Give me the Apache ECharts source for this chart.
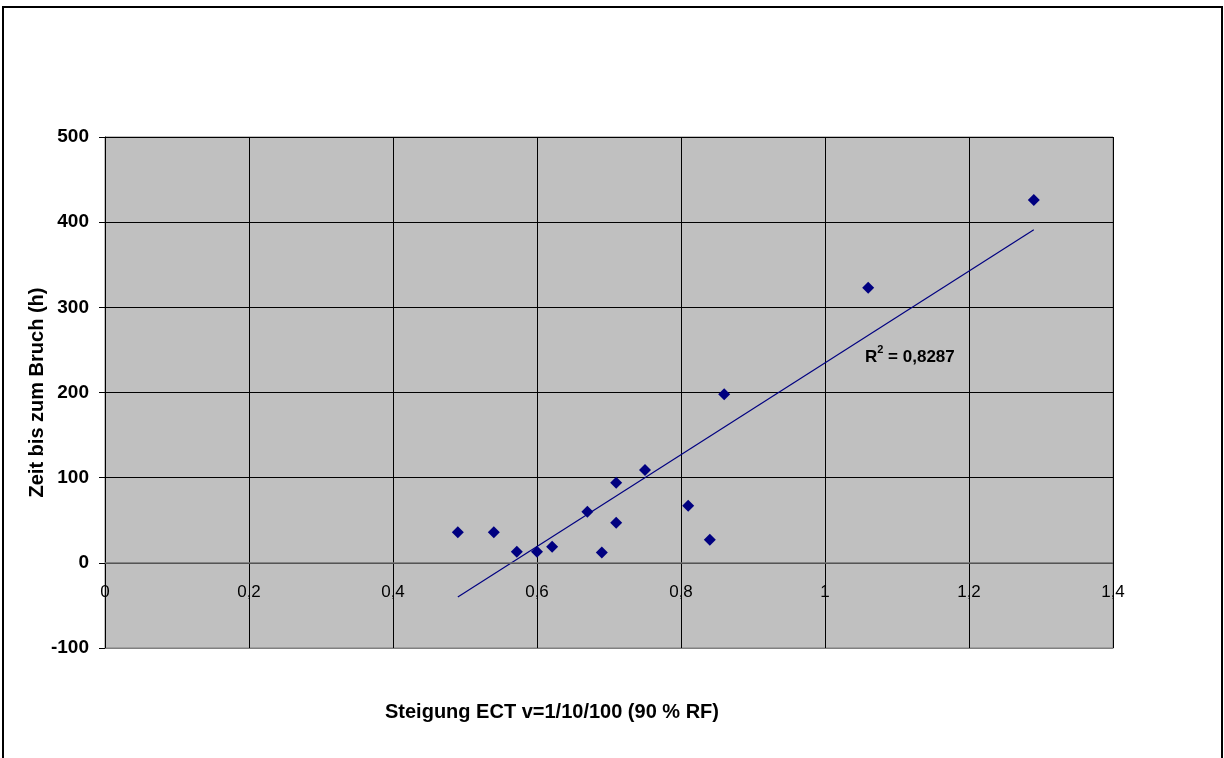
<!DOCTYPE html>
<html>
<head>
<meta charset="utf-8">
<script src="https://cdn.jsdelivr.net/npm/echarts@6/dist/echarts.min.js"></script>
<style>
  html, body { margin: 0; padding: 0; background: #fff; }
  #chart { width: 1224px; height: 758px; }
</style>
</head>
<body>
<div id="chart"></div>
<script>
// Messwerte
const steigung = [0.49, 0.54, 0.572, 0.60, 0.621, 0.67, 0.69, 0.71, 0.71, 0.75, 0.81, 0.84, 0.86, 1.06, 1.29]
const zeitBruch = [36, 36, 13, 13, 19, 60, 12, 94, 47, 109, 67, 27, 198, 323, 426]
const xTicks = [0, 0.2, 0.4, 0.6, 0.8, 1, 1.2, 1.4]
const yTicks = [-100, 0, 100, 200, 300, 400, 500]
const r2Text = '0,8287'

// lineare Trendlinie (kleinste Quadrate)
const n = steigung.length
const mx = steigung.reduce((a, b) => a + b, 0) / n
const my = zeitBruch.reduce((a, b) => a + b, 0) / n
let sxy = 0, sxx = 0
for (let i = 0; i < n; i++) {
  sxy += (steigung[i] - mx) * (zeitBruch[i] - my)
  sxx += (steigung[i] - mx) * (steigung[i] - mx)
}
const slope = sxy / sxx
const icpt = my - slope * mx
const xMin = Math.min(...steigung)
const xMax = Math.max(...steigung)
const trend = [[xMin, icpt + slope * xMin], [xMax, icpt + slope * xMax]]

const chart = echarts.init(document.getElementById('chart'))
chart.setOption({
  animation: false,
  textStyle: { fontFamily: 'Liberation Sans, Arial, sans-serif' },
  grid: {
    left: 105,
    top: 137,
    right: 111,
    bottom: 110,
    show: true,
    backgroundColor: '#c0c0c0',
    borderColor: '#808080',
    borderWidth: 1
  },
  xAxis: {
    type: 'value',
    min: xTicks[0],
    max: xTicks[xTicks.length - 1],
    interval: 0.2,
    axisLine: { onZero: false, lineStyle: { color: '#808080', width: 1 } },
    axisTick: { show: false },
    // Beschriftung sitzt unter der Nulllinie, nicht am unteren Rand
    axisLabel: {
      color: '#000',
      fontSize: 17,
      margin: -64,
      formatter: v => String(Math.round(v * 10) / 10).replace('.', ',')
    },
    splitLine: { show: true, lineStyle: { color: '#000', width: 1 } }
  },
  yAxis: {
    type: 'value',
    min: yTicks[0],
    max: yTicks[yTicks.length - 1],
    interval: 100,
    name: 'Zeit bis zum Bruch (h)',
    nameLocation: 'middle',
    nameGap: 58,
    nameMoveOverlap: false,
    nameTextStyle: { color: '#000', fontSize: 20, fontWeight: 'bold' },
    axisLine: { show: true, onZero: false, lineStyle: { color: '#000', width: 1 } },
    axisTick: { show: true, length: 6, lineStyle: { color: '#000' } },
    axisLabel: { color: '#000', fontSize: 19, fontWeight: 'bold', margin: 16 },
    splitLine: { show: true, lineStyle: { color: '#000', width: 1 } }
  },
  graphic: [
    {
      type: 'rect',
      silent: true,
      shape: { x: 3, y: 7, width: 1219, height: 800 },
      style: { fill: 'none', stroke: '#000', lineWidth: 2 }
    },
    {
      type: 'text',
      left: 385,
      top: 702,
      style: {
        text: 'Steigung ECT v=1/10/100 (90 % RF)',
        fill: '#000',
        font: 'bold 20px "Liberation Sans", Arial, sans-serif'
      }
    },
    {
      type: 'text',
      left: 865,
      top: 344,
      style: {
        text: '{a|R}{s|2}{a| = ' + r2Text + '}',
        rich: {
          a: { fontSize: 17, fontWeight: 'bold', fill: '#000', fontFamily: 'Liberation Sans', verticalAlign: 'bottom', lineHeight: 22 },
          s: { fontSize: 11, fontWeight: 'bold', fill: '#000', fontFamily: 'Liberation Sans', verticalAlign: 'top', lineHeight: 22 }
        }
      }
    }
  ],
  series: [
    {
      type: 'line',
      data: trend,
      symbol: 'none',
      lineStyle: { color: '#000080', width: 1.2 },
      z: 2,
      // x-Achse bei y = 0
      markLine: {
        silent: true,
        symbol: 'none',
        label: { show: false },
        lineStyle: { color: '#707070', width: 1.5, type: 'solid' },
        data: [{ yAxis: 0 }]
      }
    },
    {
      type: 'scatter',
      data: steigung.map((x, i) => [x, zeitBruch[i]]),
      symbol: 'diamond',
      symbolSize: 12,
      itemStyle: { color: '#000080', opacity: 1 },
      z: 3
    }
  ]
})
</script>
</body>
</html>
